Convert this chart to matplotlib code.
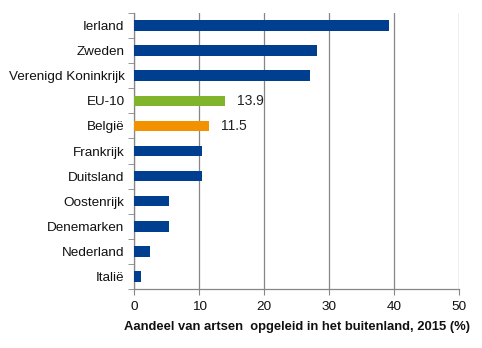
import numpy as np
import matplotlib
matplotlib.use("Agg")
import matplotlib.pyplot as plt

# Doctors trained abroad, share per country (2015)
countries = ["Ierland", "Zweden", "Verenigd Koninkrijk", "EU-10", "België",
             "Frankrijk", "Duitsland", "Oostenrijk", "Denemarken", "Nederland", "Italië"]
values = [39.2, 28.1, 27.1, 13.9, 11.5, 10.5, 10.4, 5.35, 5.35, 2.4, 1.0]
labelled = {"EU-10": "13.9", "België": "11.5"}

blue = "#003f8f"
colors = {"EU-10": "#80b52b", "België": "#f39200"}
grid_col = "#868686"

plt.rcParams["font.family"] = ["Liberation Sans", "DejaVu Sans"]

fig = plt.figure(figsize=(4.82, 3.48), dpi=100)
ax = fig.add_axes([0.2786, 0.1695, 0.9523 - 0.2786, 0.9626 - 0.1695])

y = np.arange(len(countries))
bar_colors = [colors.get(c, blue) for c in countries]
ax.barh(y, values, height=0.42, color=bar_colors, zorder=3)

for yi, c, v in zip(y, countries, values):
    if c in labelled:
        ax.text(v + 1.9, yi, labelled[c], va="center", ha="left", fontsize=10, color="#222222")

ax.set_ylim(len(countries) - 0.5, -0.5)
ax.set_xlim(0, 50)
ax.set_xticks(np.arange(0, 51, 10))
ax.set_yticks(y)
ax.set_yticklabels(countries, fontsize=9.7)
ax.set_yticks(np.arange(-0.5, len(countries), 1), minor=True)
ax.tick_params(axis="y", which="major", length=0, pad=7, colors="#111111")
ax.tick_params(axis="y", which="minor", length=4, color=grid_col)
ax.tick_params(axis="x", length=4, color=grid_col, labelsize=9.7, pad=4.5, labelcolor="#111111")

ax.grid(axis="x", color=grid_col, linewidth=0.9, zorder=0)
for side in ["top", "right"]:
    ax.spines[side].set_visible(False)
for side in ["left", "bottom"]:
    ax.spines[side].set_color(grid_col)
    ax.spines[side].set_linewidth(0.9)

ax.set_xlabel("Aandeel van artsen  opgeleid in het buitenland, 2015 (%)",
              fontsize=9.4, fontweight="bold", labelpad=6, color="#111111")

fig.savefig("out.png", dpi=100)
